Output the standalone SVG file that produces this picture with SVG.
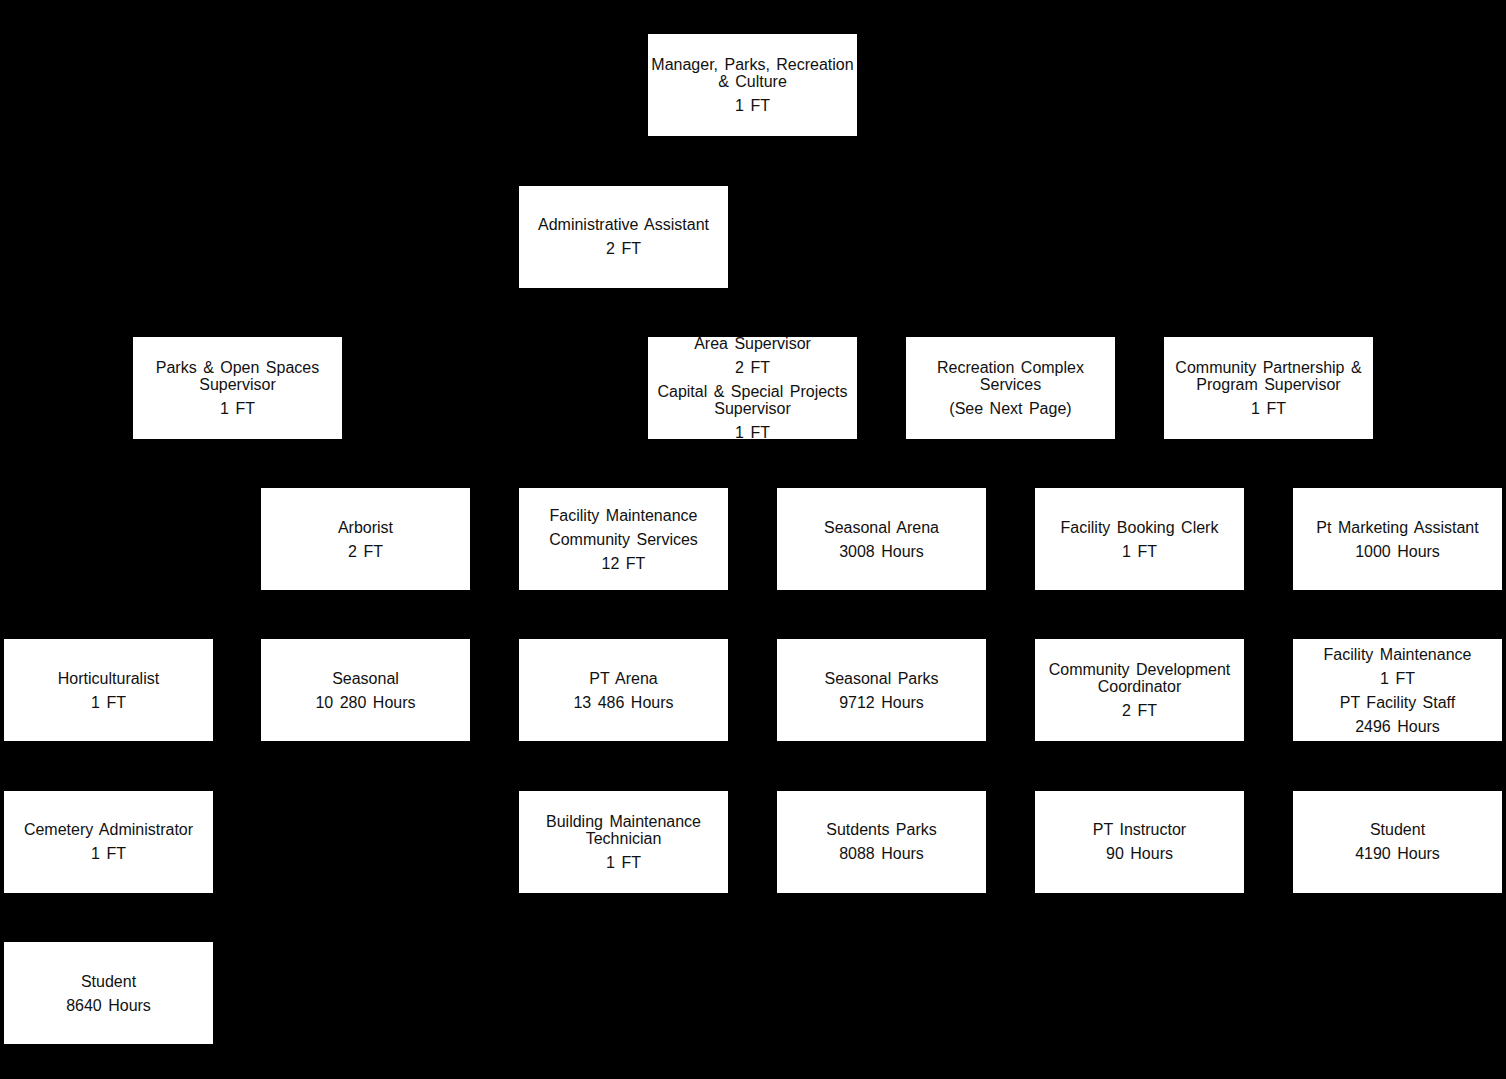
<svg xmlns="http://www.w3.org/2000/svg" width="1506" height="1079" viewBox="0 0 1506 1079">
<style>
.bg{fill:#000}
.box{fill:#fff;stroke:none}
text{font-family:"Liberation Sans",Arial,sans-serif;font-size:16px;fill:#111;text-anchor:middle;word-spacing:2px}
.conn{stroke:#000;stroke-width:1;fill:none}
</style>
<rect class="bg" x="0" y="0" width="1506" height="1079"/>
<g id="connectors"></g>
<g id="manager"><rect class="box" x="648" y="34" width="209" height="102"/><text x="752.5" y="70">Manager, Parks, Recreation</text><text x="752.5" y="87">&amp; Culture</text><text x="752.5" y="111">1 FT</text></g>
<g id="admin-assistant"><rect class="box" x="519" y="186" width="209" height="102"/><text x="623.5" y="230">Administrative Assistant</text><text x="623.5" y="254">2 FT</text></g>
<g id="parks-supervisor"><rect class="box" x="133" y="337" width="209" height="102"/><text x="237.5" y="373">Parks &amp; Open Spaces</text><text x="237.5" y="390">Supervisor</text><text x="237.5" y="414">1 FT</text></g>
<g id="area-supervisor"><rect class="box" x="648" y="337" width="209" height="102"/><text x="752.5" y="349">Area Supervisor</text><text x="752.5" y="373">2 FT</text><text x="752.5" y="397">Capital &amp; Special Projects</text><text x="752.5" y="414">Supervisor</text><text x="752.5" y="438">1 FT</text></g>
<g id="recreation-complex"><rect class="box" x="906" y="337" width="209" height="102"/><text x="1010.5" y="373">Recreation Complex</text><text x="1010.5" y="390">Services</text><text x="1010.5" y="414">(See Next Page)</text></g>
<g id="community-partnership"><rect class="box" x="1164" y="337" width="209" height="102"/><text x="1268.5" y="373">Community Partnership &amp;</text><text x="1268.5" y="390">Program Supervisor</text><text x="1268.5" y="414">1 FT</text></g>
<g id="arborist"><rect class="box" x="261" y="488" width="209" height="102"/><text x="365.5" y="533">Arborist</text><text x="365.5" y="557">2 FT</text></g>
<g id="facility-maintenance-cs"><rect class="box" x="519" y="488" width="209" height="102"/><text x="623.5" y="521">Facility Maintenance</text><text x="623.5" y="545">Community Services</text><text x="623.5" y="569">12 FT</text></g>
<g id="seasonal-arena"><rect class="box" x="777" y="488" width="209" height="102"/><text x="881.5" y="533">Seasonal Arena</text><text x="881.5" y="557">3008 Hours</text></g>
<g id="facility-booking-clerk"><rect class="box" x="1035" y="488" width="209" height="102"/><text x="1139.5" y="533">Facility Booking Clerk</text><text x="1139.5" y="557">1 FT</text></g>
<g id="pt-marketing-assistant"><rect class="box" x="1293" y="488" width="209" height="102"/><text x="1397.5" y="533">Pt Marketing Assistant</text><text x="1397.5" y="557">1000 Hours</text></g>
<g id="horticulturalist"><rect class="box" x="4" y="639" width="209" height="102"/><text x="108.5" y="684">Horticulturalist</text><text x="108.5" y="708">1 FT</text></g>
<g id="seasonal"><rect class="box" x="261" y="639" width="209" height="102"/><text x="365.5" y="684">Seasonal</text><text x="365.5" y="708">10 280 Hours</text></g>
<g id="pt-arena"><rect class="box" x="519" y="639" width="209" height="102"/><text x="623.5" y="684">PT Arena</text><text x="623.5" y="708">13 486 Hours</text></g>
<g id="seasonal-parks"><rect class="box" x="777" y="639" width="209" height="102"/><text x="881.5" y="684">Seasonal Parks</text><text x="881.5" y="708">9712 Hours</text></g>
<g id="community-development"><rect class="box" x="1035" y="639" width="209" height="102"/><text x="1139.5" y="675">Community Development</text><text x="1139.5" y="692">Coordinator</text><text x="1139.5" y="716">2 FT</text></g>
<g id="facility-maintenance-pt"><rect class="box" x="1293" y="639" width="209" height="102"/><text x="1397.5" y="660">Facility Maintenance</text><text x="1397.5" y="684">1 FT</text><text x="1397.5" y="708">PT Facility Staff</text><text x="1397.5" y="732">2496 Hours</text></g>
<g id="cemetery-administrator"><rect class="box" x="4" y="791" width="209" height="102"/><text x="108.5" y="835">Cemetery Administrator</text><text x="108.5" y="859">1 FT</text></g>
<g id="building-maintenance"><rect class="box" x="519" y="791" width="209" height="102"/><text x="623.5" y="827">Building Maintenance</text><text x="623.5" y="844">Technician</text><text x="623.5" y="868">1 FT</text></g>
<g id="students-parks"><rect class="box" x="777" y="791" width="209" height="102"/><text x="881.5" y="835">Sutdents Parks</text><text x="881.5" y="859">8088 Hours</text></g>
<g id="pt-instructor"><rect class="box" x="1035" y="791" width="209" height="102"/><text x="1139.5" y="835">PT Instructor</text><text x="1139.5" y="859">90 Hours</text></g>
<g id="student-community"><rect class="box" x="1293" y="791" width="209" height="102"/><text x="1397.5" y="835">Student</text><text x="1397.5" y="859">4190 Hours</text></g>
<g id="student-parks"><rect class="box" x="4" y="942" width="209" height="102"/><text x="108.5" y="987">Student</text><text x="108.5" y="1011">8640 Hours</text></g>
</svg>
